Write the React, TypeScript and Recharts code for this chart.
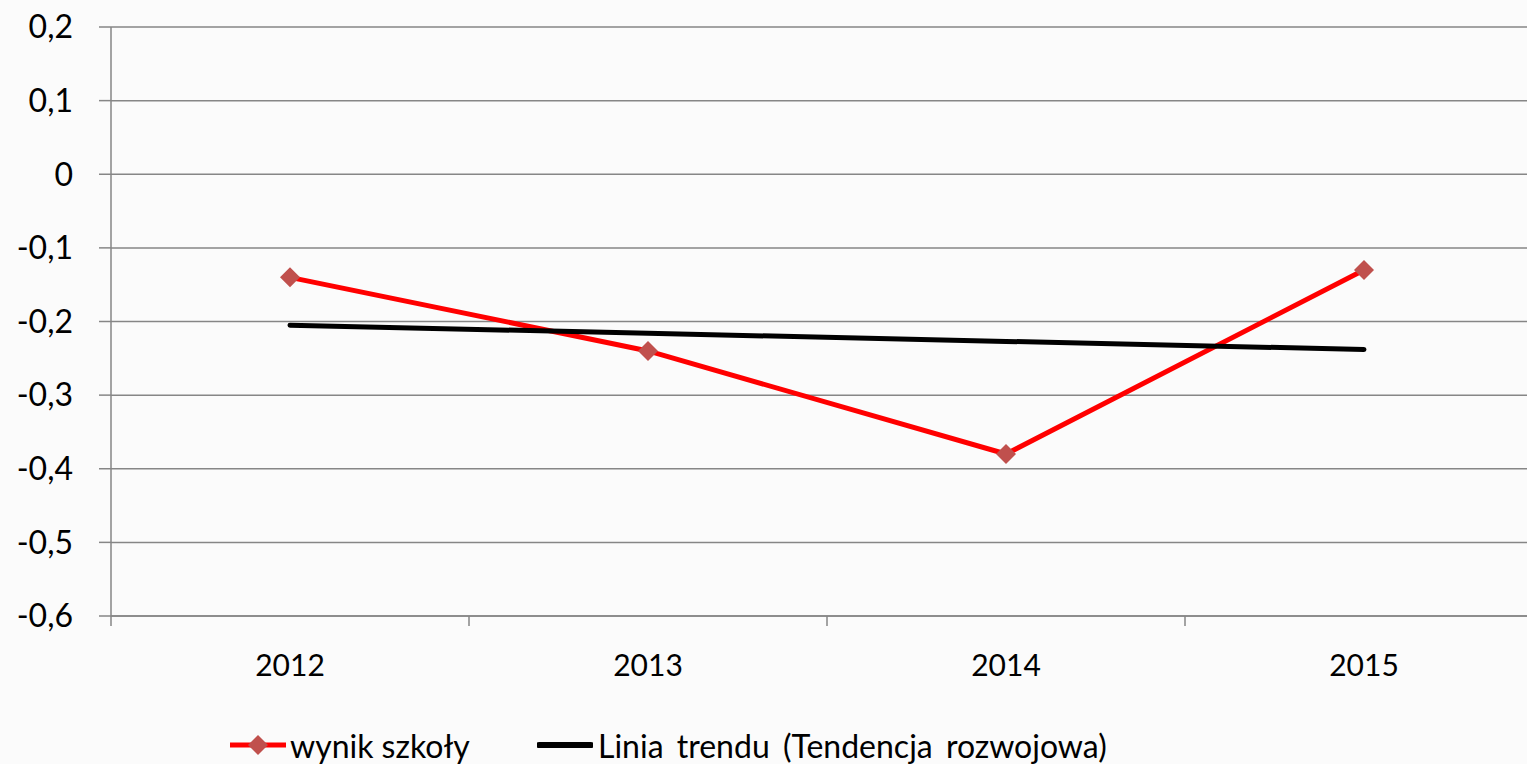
import React from 'react';
import { LineChart, Line, XAxis, YAxis, CartesianGrid, Legend } from 'recharts';

const years = ['2012', '2013', '2014', '2015'];
const schoolScores = [-0.14, -0.24, -0.38, -0.13];
const trendValues = [-0.205, -0.216, -0.227, -0.238];
const yTicks = [-0.6, -0.5, -0.4, -0.3, -0.2, -0.1, 0, 0.1, 0.2];

const seriesNames = {
  score: 'wynik szkoły',
  trend: 'Linia trendu (Tendencja rozwojowa)',
};

const data = years.map((year, i) => ({
  year,
  score: schoolScores[i],
  trend: trendValues[i],
}));

const FONT = 'Lato, "Open Sans", sans-serif';
const GRID = '#868686';
const RED = '#FF0000';
const MARKER = '#C0504D';

const CHART_W = 1545;
const CHART_H = 764;
const Y_AXIS_W = 111;
const MARGIN_RIGHT = 2;
const BAND = (CHART_W - Y_AXIS_W - MARGIN_RIGHT) / years.length;

const Diamond = (props: any) => {
  const { cx, cy } = props;
  if (cx == null || cy == null) return null;
  const r = 10;
  return (
    <polygon
      points={`${cx},${cy - r} ${cx + r},${cy} ${cx},${cy + r} ${cx - r},${cy}`}
      fill={MARKER}
    />
  );
};

const YearTick = (props: any) => {
  const { x, y, payload } = props;
  const left = x - BAND / 2;
  return (
    <g>
      <line x1={left} y1={y} x2={left} y2={y + 10} stroke={GRID} strokeWidth={1.5} />
      <text
        x={x}
        y={y + 48}
        textAnchor="middle"
        dominantBaseline="central"
        fontFamily={FONT}
        fontSize={30}
        fill="#000"
      >
        {payload.value}
      </text>
    </g>
  );
};

const LegendContent = () => (
  <div style={{ position: 'relative', width: 1527, height: 38, fontFamily: FONT, fontSize: 32 }}>
    <div style={{ position: 'absolute', left: 230, top: 0, height: 38, display: 'flex', alignItems: 'center' }}>
      <svg width={56} height={38}>
        <line x1={0} y1={19} x2={56} y2={19} stroke={RED} strokeWidth={5} />
        <polygon points="28,9 38,19 28,29 18,19" fill={MARKER} />
      </svg>
      <span style={{ marginLeft: 4, color: '#000' }}>{seriesNames.score}</span>
    </div>
    <div style={{ position: 'absolute', left: 537, top: 0, height: 38, display: 'flex', alignItems: 'center' }}>
      <svg width={56} height={38}>
        <line x1={2} y1={19} x2={54} y2={19} stroke="#000" strokeWidth={6} strokeLinecap="round" />
      </svg>
      <span style={{ marginLeft: 5, color: '#000', wordSpacing: 5 }}>{seriesNames.trend}</span>
    </div>
  </div>
);

const formatTick = (v: number) => String(Math.round(v * 10) / 10).replace('.', ',');

export default function App() {
  return (
    <div
      style={{
        position: 'absolute',
        left: 0,
        top: 0,
        width: 1527,
        height: 764,
        overflow: 'hidden',
        background: '#fbfbfb',
      }}
    >
      <LineChart
        width={CHART_W}
        height={CHART_H}
        data={data}
        margin={{ top: 27, right: MARGIN_RIGHT, left: 0, bottom: 0 }}
      >
        <CartesianGrid vertical={false} stroke={GRID} strokeWidth={1.5} />
        <XAxis
          dataKey="year"
          scale="band"
          height={110}
          tickLine={false}
          tickSize={0}
          tickMargin={0}
          axisLine={{ stroke: GRID, strokeWidth: 1.5 }}
          tick={<YearTick />}
          interval={0}
        />
        <YAxis
          type="number"
          domain={[-0.6, 0.2]}
          ticks={yTicks}
          width={Y_AXIS_W}
          tickSize={12}
          tickMargin={26}
          tickFormatter={formatTick}
          axisLine={{ stroke: GRID, strokeWidth: 1.5 }}
          tickLine={{ stroke: GRID, strokeWidth: 1.5 }}
          tick={{ fill: '#000', fontSize: 32, fontFamily: FONT }}
          interval={0}
        />
        <Legend verticalAlign="bottom" height={38} content={<LegendContent />} />
        <Line
          type="linear"
          dataKey="score"
          name={seriesNames.score}
          stroke={RED}
          strokeWidth={5}
          dot={<Diamond />}
          activeDot={false}
          isAnimationActive={false}
        />
        <Line
          type="linear"
          dataKey="trend"
          name={seriesNames.trend}
          stroke="#000"
          strokeWidth={5}
          strokeLinecap="round"
          dot={false}
          activeDot={false}
          isAnimationActive={false}
        />
      </LineChart>
    </div>
  );
}
